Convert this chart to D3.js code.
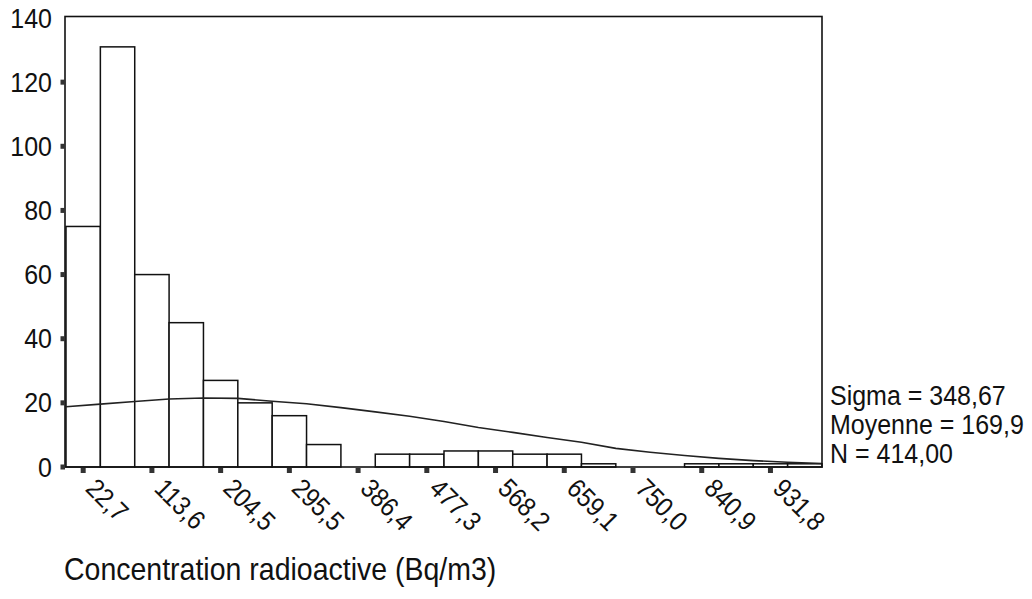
<!DOCTYPE html>
<html><head><meta charset="utf-8">
<script src="https://cdn.jsdelivr.net/npm/d3@7"></script>
<style>html,body{margin:0;padding:0;background:#fff;}svg{display:block;font-family:"Liberation Sans",Arial,sans-serif;}</style>
</head><body>
<svg id="c" width="1032" height="599"></svg>
<script>
// Histogram bins: 22 bins of width 45.45 from 0 to 1000
const binStart = 0, binEnd = 1000, binCount = 22;
const counts = [75,131,60,45,27,20,16,7,0,4,4,5,5,4,4,1,0,0,1,1,1,1];
// fitted normal curve read at bin edges
const curveX = [0,45.45,90.9,136.4,181.8,227.3,272.7,318.2,363.6,409.1,454.5,500,545.5,590.9,636.4,681.8,727.3,772.7,818.2,863.6,909.1,954.5,1000];
const curveY = [18.8,19.6,20.4,21.2,21.5,21.4,20.5,19.7,18.5,17.2,15.8,14.2,12.3,10.8,9.2,7.7,5.8,4.6,3.6,2.7,2.0,1.5,1.1];
const xTickLabels = ["22,7","113,6","204,5","295,5","386,4","477,3","568,2","659,1","750,0","840,9","931,8"];
const yTicks = [0,20,40,60,80,100,120,140];
const statsLines = ["Sigma = 348,67","Moyenne = 169,9","N = 414,00"];
const xTitle = "Concentration radioactive (Bq/m3)";

const svg = d3.select("#c");
const x = d3.scaleLinear().domain([binStart, binEnd]).range([66, 822]);
const y = d3.scaleLinear().domain([0, 140]).range([467, 18]);
const bw = (binEnd - binStart) / binCount;
const VS = 1.12; // vertical stretch of glyphs seen in the reference

// bars
svg.append("g").selectAll("rect").data(counts).join("rect")
  .attr("x", (d,i) => x(binStart + i*bw))
  .attr("width", x(bw) - x(0))
  .attr("y", d => y(d))
  .attr("height", d => y(0) - y(d))
  .attr("fill", "#fff").attr("stroke", "#111").attr("stroke-width", 1.5)
  .style("display", d => d > 0 ? null : "none");

// curve
const line = d3.line().x((d,i) => x(curveX[i])).y(d => y(d)).curve(d3.curveLinear);
svg.append("path").datum(curveY).attr("d", line)
  .attr("fill", "none").attr("stroke", "#222").attr("stroke-width", 1.6);

// frame
svg.append("rect").attr("x", 65).attr("y", y(140) - 1.5)
  .attr("width", x(binEnd) - 65).attr("height", y(0) - y(140) + 1.5)
  .attr("fill", "none").attr("stroke", "#111").attr("stroke-width", 1.6);

// y ticks (square markers) and labels
const yt = svg.append("g");
yt.selectAll("rect").data(yTicks.filter(d => d < 140)).join("rect")
  .attr("x", 60.5).attr("y", d => y(d) - 2.5).attr("width", 4.5).attr("height", 5).attr("fill", "#333");
yt.selectAll("text").data(yTicks).join("text")
  .attr("transform", d => `translate(52,${y(d) + 9.5}) scale(1,${VS})`)
  .attr("text-anchor", "end").attr("font-size", 25).attr("fill", "#111")
  .text(d => d);

// x ticks at centers of odd bins
const tickVals = xTickLabels.map((t,i) => binStart + (2*i + 0.5) * bw);
const xt = svg.append("g");
xt.selectAll("rect").data(tickVals).join("rect")
  .attr("x", d => x(d) - 2.5).attr("y", 468).attr("width", 5).attr("height", 5).attr("fill", "#333");
xt.selectAll("text").data(xTickLabels).join("text")
  .attr("transform", (d,i) => `translate(${x(tickVals[i]) + 1},${490}) rotate(45) scale(1,${VS})`)
  .attr("font-size", 24).attr("fill", "#111")
  .text(d => d);

// stats
svg.append("g").selectAll("text").data(statsLines).join("text")
  .attr("transform", (d,i) => `translate(830,${405 + i*29}) scale(1,${VS})`)
  .attr("font-size", 25).attr("fill", "#111")
  .text(d => d);

// title
svg.append("text").attr("transform", `translate(64,580) scale(1,${VS})`)
  .attr("font-size", 28.5).attr("fill", "#111").text(xTitle);
</script>
</body></html>
